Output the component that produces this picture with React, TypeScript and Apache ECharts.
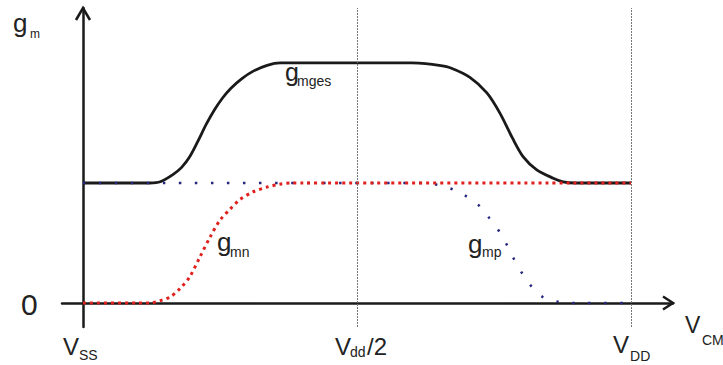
import React, { useEffect, useRef } from "react";
import * as echarts from "echarts";

// Common-mode voltage axis: VSS = 0, VDD = 1. Transconductance in units of a single pair.
const xMin = -0.0383;
const xMax = 1.0766;
const yMin = -0.2;
const yMax = 2.458;

const rails = [0.5, 1];

// total transconductance g_mges
const gmgesCurve: [number, number][] = [
  [0, 1], [0.1, 1], [0.122, 1.0], [0.141, 1.01], [0.164, 1.07], [0.18, 1.13],
  [0.195, 1.22], [0.21, 1.35], [0.225, 1.49], [0.24, 1.61], [0.255, 1.71],
  [0.27, 1.79], [0.29, 1.87], [0.31, 1.93], [0.336, 1.98], [0.36, 2.0],
  [0.385, 2.0], [0.6, 2.0], [0.625, 1.995], [0.65, 1.98], [0.67, 1.96],
  [0.706, 1.88], [0.737, 1.75], [0.761, 1.58], [0.783, 1.38], [0.803, 1.22],
  [0.828, 1.11], [0.858, 1.04], [0.876, 1.01], [0.898, 1.0], [0.92, 1.0], [1, 1],
];

// NMOS pair g_mn
const gmnCurve: [number, number][] = [
  [0, 0], [0.1, 0], [0.122, 0], [0.141, 0.02], [0.159, 0.05], [0.177, 0.12],
  [0.195, 0.22], [0.213, 0.38], [0.232, 0.55], [0.25, 0.69], [0.268, 0.78],
  [0.286, 0.86], [0.31, 0.925], [0.336, 0.966], [0.359, 0.99], [0.38, 1], [0.4, 1], [1, 1],
];

// PMOS pair g_mp
const gmpCurve: [number, number][] = [
  [0, 1], [0.6, 1], [0.624, 1], [0.646, 0.985], [0.673, 0.95], [0.699, 0.89],
  [0.723, 0.81], [0.741, 0.71], [0.759, 0.6], [0.774, 0.48], [0.786, 0.37],
  [0.801, 0.25], [0.818, 0.14], [0.839, 0.05], [0.867, 0.01], [0.896, 0], [0.92, 0], [1, 0],
];

const FONT = '"Liberation Sans", Arial, Helvetica, sans-serif';
const INK = "#1a1a1a";

function txt(str: string, left: number, baseline: number, size: number) {
  return {
    type: "text",
    x: left,
    y: baseline - 0.35 * size,
    silent: true,
    style: {
      text: str,
      font: `${size}px ${FONT}`,
      fill: "#222",
      align: "left",
      verticalAlign: "middle",
      textAlign: "left",
      textVerticalAlign: "middle",
    },
  };
}

export default function App() {
  const ref = useRef<HTMLDivElement>(null);

  useEffect(() => {
    if (!ref.current) return;
    const chart = echarts.init(ref.current, undefined, { renderer: "svg" });

    const railLines = rails.map((r) => [
      { coord: [r, yMin] },
      { coord: [r, yMax] },
    ]);

    chart.setOption({
      animation: false,
      grid: { left: 62, right: 50, top: 8, bottom: 38 },
      xAxis: {
        type: "value",
        min: xMin,
        max: xMax,
        axisLine: { show: true, onZero: true, lineStyle: { color: INK, width: 2.5 } },
        axisTick: { show: false },
        axisLabel: { show: false },
        splitLine: { show: false },
      },
      yAxis: {
        type: "value",
        min: yMin,
        max: yMax,
        axisLine: { show: true, onZero: true, lineStyle: { color: INK, width: 2.5 } },
        axisTick: { show: false },
        axisLabel: { show: false },
        splitLine: { show: false },
      },
      series: [
        {
          name: "gmges",
          type: "line",
          data: gmgesCurve,
          smooth: 0.3,
          showSymbol: false,
          silent: true,
          lineStyle: { color: INK, width: 2.8 },
          markLine: {
            silent: true,
            symbol: ["none", "none"],
            label: { show: false },
            lineStyle: { color: "#777", width: 1, type: [2, 1] },
            data: railLines,
          },
        },
        {
          name: "gmp",
          type: "line",
          data: gmpCurve,
          smooth: 0.3,
          showSymbol: false,
          silent: true,
          lineStyle: { color: "#26267f", width: 2.5, type: [2.5, 13.5] },
        },
        {
          name: "gmn",
          type: "line",
          data: gmnCurve,
          smooth: 0.3,
          showSymbol: false,
          silent: true,
          lineStyle: { color: "#e0201c", width: 3, type: [3, 4] },
        },
      ],
    });

    const origin = chart.convertToPixel({ gridIndex: 0 }, [0, 0]) as number[];
    const xEnd = chart.convertToPixel({ gridIndex: 0 }, [xMax, 0]) as number[];
    const yEnd = chart.convertToPixel({ gridIndex: 0 }, [0, yMax]) as number[];
    const mid = chart.convertToPixel({ gridIndex: 0 }, [0.5, 0]) as number[];
    const vdd = chart.convertToPixel({ gridIndex: 0 }, [1, 0]) as number[];

    const arrowStyle = { stroke: INK, lineWidth: 2.5, fill: "none", lineJoin: "miter" };
    const ox = origin[0];
    const oy = origin[1];

    chart.setOption({
      graphic: [
        {
          type: "polyline",
          silent: true,
          shape: { points: [[xEnd[0] - 10, oy - 6.5], [xEnd[0], oy], [xEnd[0] - 10, oy + 6.5]] },
          style: arrowStyle,
        },
        {
          type: "polyline",
          silent: true,
          shape: { points: [[ox - 7, yEnd[1] + 12], [ox, yEnd[1]], [ox + 7, yEnd[1] + 12]] },
          style: arrowStyle,
        },
        // y axis title g_m
        txt("g", ox - 70, 32, 26),
        txt("m", ox - 53, 38, 12),
        // zero level
        txt("0", ox - 62, oy + 12, 30),
        // V_SS
        txt("V", ox - 20, oy + 52, 24),
        txt("SS", ox - 4, oy + 57, 14),
        // V_dd/2
        txt("V", mid[0] - 22, oy + 52, 24),
        txt("dd", mid[0] - 7, oy + 54, 14),
        txt("/2", mid[0] + 10, oy + 52, 24),
        // V_DD
        txt("V", vdd[0] - 18, oy + 50, 24),
        txt("DD", vdd[0] - 1, oy + 58, 14),
        // V_CM
        txt("V", xEnd[0] + 12, oy + 30, 23),
        txt("CM", xEnd[0] + 29, oy + 42, 14),
        // curve labels
        txt("g", 285, 81, 25),
        txt("mges", 297, 86, 14),
        txt("g", 217, 251, 26),
        txt("mn", 230, 257, 14),
        txt("g", 468, 253, 26),
        txt("mp", 482, 257, 14),
      ],
    });

    return () => chart.dispose();
  }, []);

  return (
    <div
      ref={ref}
      style={{ position: "absolute", left: 0, top: 0, width: 723, height: 365, background: "#fff" }}
    />
  );
}
